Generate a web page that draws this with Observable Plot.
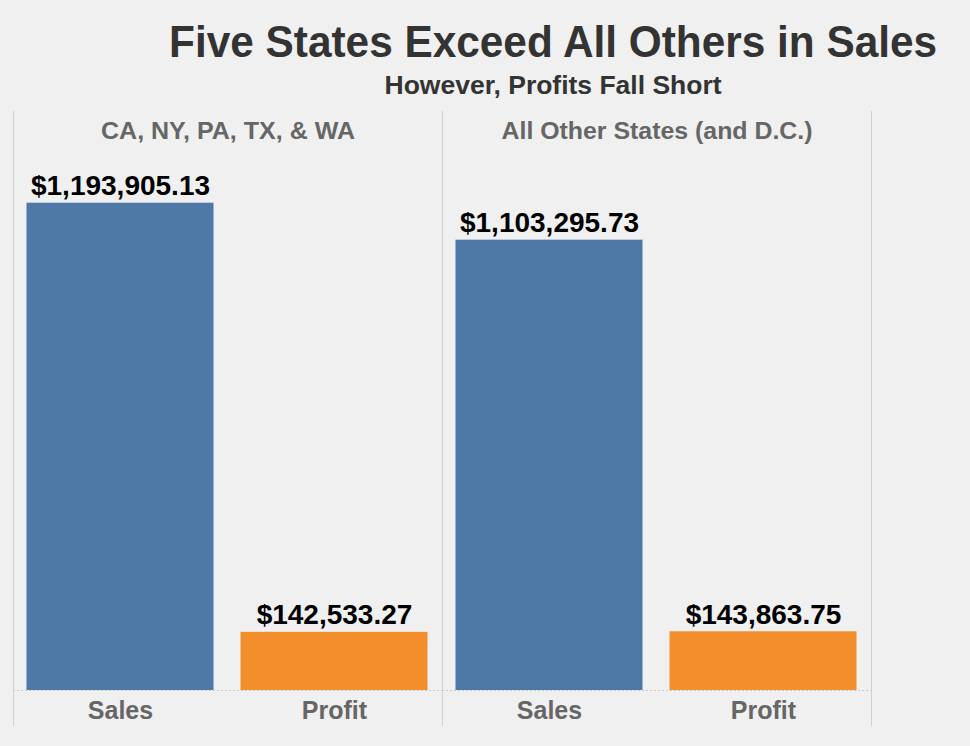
<!DOCTYPE html>
<html>
<head>
<meta charset="utf-8">
<script src="https://cdn.jsdelivr.net/npm/d3@7"></script>
<script src="https://cdn.jsdelivr.net/npm/@observablehq/plot@0.6"></script>
<style>
  html, body { margin: 0; padding: 0; background: #f0f0f0; }
  #wrap { position: relative; width: 970px; height: 746px; overflow: hidden; }
  #head { position: relative; width: 970px; height: 100px; }
  .t { position: absolute; left: 137px; right: 0; text-align: center; color: #333;
       font-family: "Liberation Sans", Arial, sans-serif;
       font-weight: bold; white-space: nowrap; }
  .t span { display: inline-block; transform-origin: 50% 50%; }
  #title { top: 19px; font-size: 45px; line-height: 45px; }
  #subtitle { top: 73px; font-size: 25px; line-height: 25px; }
  svg { display: block; }
</style>
</head>
<body>
<div id="wrap">
  <div id="head">
    <div class="t" id="title"><span data-w="768">Five States Exceed All Others in Sales</span></div>
    <div class="t" id="subtitle"><span data-w="337">However, Profits Fall Short</span></div>
  </div>
  <div id="chart"></div>
</div>
<script>
const regions = ["CA, NY, PA, TX, & WA", "All Other States (and D.C.)"];
const regionLabelWidths = [254, 311];
const measures = ["Sales", "Profit"];
const salesValues = [1193905.13, 1103295.73];
const profitValues = [142533.27, 143863.75];
const measureColors = ["#4e79a7", "#f28e2b"];

const data = [];
regions.forEach((r, i) => {
  data.push({region: r, measure: measures[0], value: salesValues[i]});
  data.push({region: r, measure: measures[1], value: profitValues[i]});
});

const fmt = d3.format("$,.2f");
const font = '"Liberation Sans", Arial, sans-serif';

const H = 646;
const chart = Plot.plot({
  width: 970,
  height: H,
  marginLeft: 12.5,
  marginRight: 98,
  marginTop: 60,
  marginBottom: 56,
  style: {background: "transparent", overflow: "visible"},
  fx: {domain: regions, padding: 0, label: null},
  x: {domain: measures, paddingInner: 0.1256, paddingOuter: 0.0628, label: null},
  y: {domain: [0, 1298500], axis: null},
  color: {domain: measures, range: measureColors},
  marks: [
    Plot.barY(data, {fx: "region", x: "measure", y: "value", fill: "measure"}),
    Plot.ruleY([0], {stroke: "#c8c8c8", strokeWidth: 1, strokeDasharray: "2,2"}),
    Plot.text(data, {fx: "region", x: "measure", y: "value", text: d => fmt(d.value),
      lineAnchor: "bottom", dy: -8, fill: "#000", fontSize: 28, fontWeight: "bold", fontFamily: font}),
    Plot.axisX({tickSize: 0, tickPadding: 11, fontSize: 25, fontWeight: "bold",
      fontFamily: font, color: "#666", label: null}),
    Plot.axisFx({anchor: "top", tickSize: 0, tickPadding: 22, fontSize: 23, fontWeight: "bold",
      fontFamily: font, color: "#666", label: null})
  ]
});
document.getElementById("chart").appendChild(chart);

const svgNode = chart.tagName.toLowerCase() === "svg" ? chart : chart.querySelector("svg");
const svg = d3.select(svgNode);

// condense the facet header text to the reference's narrow face
svg.selectAll("text").each(function() {
  const i = regions.indexOf(this.textContent);
  if (i >= 0) {
    this.setAttribute("textLength", regionLabelWidths[i]);
    this.setAttribute("lengthAdjust", "spacingAndGlyphs");
    this.querySelectorAll("tspan").forEach(t => {
      t.setAttribute("textLength", regionLabelWidths[i]);
      t.setAttribute("lengthAdjust", "spacingAndGlyphs");
    });
  }
});

// condense the title lines
document.querySelectorAll(".t span").forEach(s => {
  const w = +s.dataset.w;
  s.style.transform = `scaleX(${w / s.getBoundingClientRect().width})`;
});

// facet dividers at the fx band edges
const fx = chart.scale("fx");
const edges = regions.map(r => fx.apply(r));
edges.push(fx.apply(regions[regions.length - 1]) + fx.bandwidth);
svg.append("g").selectAll("line").data(edges).join("line")
  .attr("x1", d => Math.round(d) + 0.5).attr("x2", d => Math.round(d) + 0.5)
  .attr("y1", 11).attr("y2", 626)
  .attr("stroke", "#d0d0d0").attr("stroke-width", 1);
</script>
</body>
</html>
